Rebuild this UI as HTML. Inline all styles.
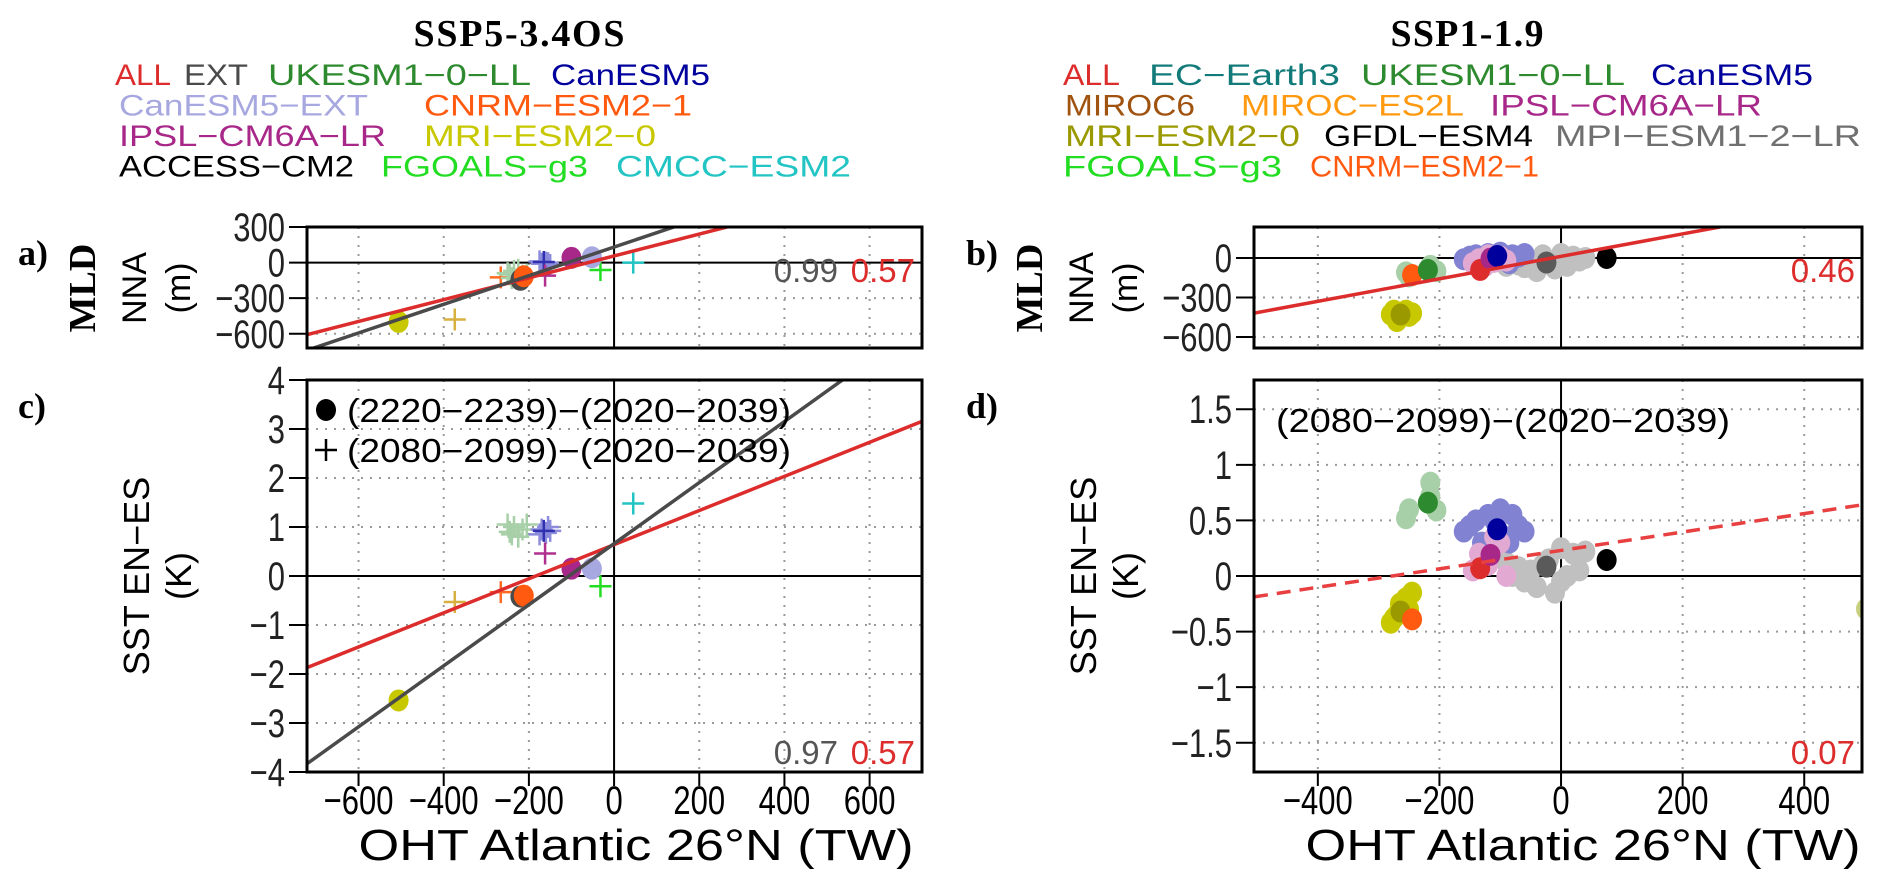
<!DOCTYPE html>
<html><head><meta charset="utf-8">
<style>
html,body{margin:0;padding:0;background:#fff;}
svg{display:block;}
text{font-family:"Liberation Sans",sans-serif;}
.serif{font-family:"Liberation Serif",serif;font-weight:bold;}
</style></head>
<body>
<svg id="fig" width="1892" height="890" viewBox="0 0 1892 890" xmlns="http://www.w3.org/2000/svg">
<g>
<text class="serif" x="519" y="46" font-size="38" text-anchor="middle" textLength="211">SSP5-3.4OS</text>
<text class="serif" x="1467" y="46" font-size="38" text-anchor="middle" textLength="153">SSP1-1.9</text>
</g>
<g id="legendtxt" font-size="30"></g>
<g id="plots"></g>
</svg>
<script>
const legendNames=["ALL","EXT","UKESM1−0−LL","CanESM5","CanESM5−EXT","CNRM−ESM2−1","IPSL−CM6A−LR","MRI−ESM2−0","ACCESS−CM2","FGOALS−g3","CMCC−ESM2",
"ALL","EC−Earth3","UKESM1−0−LL","CanESM5","MIROC6","MIROC−ES2L","IPSL−CM6A−LR","MRI−ESM2−0","GFDL−ESM4","MPI−ESM1−2−LR","FGOALS−g3","CNRM−ESM2−1"];
const legendColors=["#dd2c2c","#4a4a4a","#2e8a2e","#00009c","#a8a8e0","#ff5a10","#a8288a","#c8c800","#000000","#22dd22","#22c4c4",
"#dd2c2c","#137a7a","#2e8a2e","#00009c","#a0520f","#ff9a10","#a8288a","#9a9a00","#000000","#707070","#22dd22","#ff5a10"];
const legendX=[115,184,268,551,119,424,119,424,119,381,616,1063,1149,1361,1651,1065,1241,1490,1065,1324,1555,1063,1310];
const legendW=[56,64,263,159,249,268,267,232,235,207,235,57,191,264,162,130,223,272,235,209,306,219,229];
const legendRow=[0,0,0,0,1,1,2,2,3,3,3,0,0,0,0,1,1,1,2,2,2,3,3];

const NS="http://www.w3.org/2000/svg";
function el(tag,attrs,parent){const e=document.createElementNS(NS,tag);for(const k in attrs)e.setAttribute(k,attrs[k]);parent.appendChild(e);return e;}
const lg=document.getElementById('legendtxt');
legendNames.forEach((n,i)=>{
  const t=el('text',{x:legendX[i],y:85+legendRow[i]*30.5,fill:legendColors[i],textLength:legendW[i],lengthAdjust:'spacingAndGlyphs'},lg);
  t.textContent=n;
  
  
});

// ---- SSP5-3.4OS data (panels a, c)
const a_circleX=[-220,-506,-212,-100,-52];
const a_circleMLD=[-145,-500,-115,40,45];
const c_circleSST=[-0.42,-2.54,-0.40,0.15,0.15];
const a_circleCol=["#4a4a4a","#c8c800","#ff5a10","#a8288a","#a8a8e0"];
const a_crossX=[-374,-266,-250,-235,-215,-240,-225,-205,-245,-170,-160,-150,-175,-155,-165,-162,-32,45];
const a_crossMLD=[-480,-125,-90,-70,-110,-130,-60,-100,-100,-10,0,-20,10,-5,5,-110,-63,0];
const c_crossSST=[-0.53,-0.33,1.05,1.0,0.95,0.85,0.8,1.05,0.9,0.95,0.88,0.92,0.85,1.0,0.92,0.46,-0.21,1.48];
const a_crossCol=["#d8b040","#ff6a20","#a8d0a8","#a8d0a8","#a8d0a8","#a8d0a8","#a8d0a8","#a8d0a8","#a8d0a8","#8c8cdc","#8c8cdc","#8c8cdc","#8c8cdc","#8c8cdc","#3030b0","#b03090","#22dd22","#22c4c4"];
const a_lineSlope=[0.921,1.207], a_lineInt=[56,131];
const c_lineSlope=[0.00348,0.00623], c_lineInt=[0.64,0.66];
const lineCol=["#dd2c2c","#4a4a4a"];

// ---- SSP1-1.9 data (panels b, d)
const b_ensX=[-80,-60,-40,-20,0,20,40,-10,10,-50,-30,-70,0,-90,30,
 -160,-140,-120,-100,-80,-70,-90,-130,-150,-110,-60,-85,
 -145,-135,-110,-100,-90,-120,-125,
 -255,-215,-205,-215,-250,
 -280,-270,-255,-245,-265,-250,-275];
const b_ensMLD=[-20,-70,-100,-40,-10,10,0,-80,-60,-30,20,-50,30,-60,-20,
 -10,20,30,40,20,10,-20,-30,10,0,30,-40,
 -40,-10,-30,10,-20,20,-60,
 -110,-80,-100,-60,-140,
 -430,-480,-400,-420,-450,-440,-400];
const d_ensSST=[0.0,-0.05,-0.1,0.15,0.25,0.2,0.22,-0.15,0.0,0.05,0.1,0.08,-0.05,0.12,0.05,
 0.4,0.5,0.55,0.6,0.55,0.45,0.35,0.3,0.45,0.5,0.4,0.3,
 0.05,0.2,0.35,0.3,0.0,0.1,0.15,
 0.52,0.84,0.59,0.72,0.6,
 -0.42,-0.35,-0.2,-0.15,-0.25,-0.3,-0.38];
const b_ensGroup=[0,0,0,0,0,0,0,0,0,0,0,0,0,0,0,1,1,1,1,1,1,1,1,1,1,1,1,2,2,2,2,2,2,2,3,3,3,3,3,4,4,4,4,4,4,4];
const ensCol=["#c0c0c0","#8282d2","#e2aad2","#a8d0a8","#c8c800"];
const b_meanX=[-264,-245,-219,-133,-116,-105,-24,75];
const b_meanMLD=[-430,-130,-91,-91,-5,15,-35,0];
const d_meanSST=[-0.32,-0.39,0.66,0.07,0.19,0.42,0.084,0.144];
const meanCol=["#9a9a00","#ff5a10","#2e8a2e","#dd2c2c","#a8288a","#00009c","#5a5a5a","#000000"];
const b_lineSlope=0.854, b_lineInt=12;
const d_lineSlope=0.000828, d_lineInt=0.23;

const plots=document.getElementById('plots');
function panel(o){
  const g=el('g',{},plots);
  
  
  const sx=v=>o.L+(v-o.xd[0])/(o.xd[1]-o.xd[0])*(o.R-o.L);
  const sy=v=>o.B-(v-o.yd[0])/(o.yd[1]-o.yd[0])*(o.B-o.T);
  const clipId='clip'+o.id;
  const cp=el('clipPath',{id:clipId},g);el('rect',{x:o.L,y:o.T,width:o.R-o.L,height:o.B-o.T},cp);
  o.xg.forEach(v=>{ if(v!==0){const l=el('line',{x1:sx(v),x2:sx(v),y1:o.T,y2:o.B,stroke:'#999','stroke-width':2,'stroke-dasharray':'2 7'},g);}});
  o.yt.forEach(v=>{ if(v!==0){const l=el('line',{x1:o.L,x2:o.R,y1:sy(v),y2:sy(v),stroke:'#999','stroke-width':2,'stroke-dasharray':'2 7'},g);}});
  el('line',{x1:sx(0),x2:sx(0),y1:o.T,y2:o.B,stroke:'#000','stroke-width':2},g);
  el('line',{x1:o.L,x2:o.R,y1:sy(0),y2:sy(0),stroke:'#000','stroke-width':2},g);
  o.yt.forEach((v,i)=>{
    el('line',{x1:o.L-18,x2:o.L,y1:sy(v),y2:sy(v),stroke:'#000','stroke-width':2},g);
    const t=el('text',{x:0,y:0,'font-size':31,'text-anchor':'end',fill:'#222',transform:`translate(${o.L-22},${sy(v)+14}) scale(1,1.3)`},g);
    t.textContent=o.ytl[i];
    
    
  });
  if(o.xt){o.xt.forEach(v=>{
    el('line',{x1:sx(v),x2:sx(v),y1:o.B,y2:o.B+14,stroke:'#000','stroke-width':2},g);
    const t=el('text',{x:0,y:0,'font-size':31,'text-anchor':'middle',transform:`translate(${sx(v)},${o.B+42}) scale(1,1.3)`},g);
    t.textContent=(v<0?'−':'')+Math.abs(v);
    
    
  });}
  const pg=el('g',{'clip-path':'url(#'+clipId+')'},g);
  o.draw(pg,sx,sy);
  el('rect',{x:o.L,y:o.T,width:o.R-o.L,height:o.B-o.T,fill:'none',stroke:'#000','stroke-width':3},g);
  return g;
}
function dot(p,x,y,c,name){const e=el('ellipse',{cx:x,cy:y,rx:10,ry:11,fill:c},p);}
function cross(p,x,y,c){const e=el('path',{d:`M${x-11} ${y}H${x+11}M${x} ${y-11}V${y+11}`,stroke:c,'stroke-width':2.5,fill:'none'},p);}
function line(p,sx,sy,xd,m,b,c,dash){const e=el('line',{x1:sx(xd[0]),y1:sy(m*xd[0]+b),x2:sx(xd[1]),y2:sy(m*xd[1]+b),stroke:c,'stroke-width':3.5},p);if(dash)e.setAttribute('stroke-dasharray',dash);}
function txt(x,y,s,c,size,anchor,name,extra){const t=el('text',Object.assign({x:x,y:y,fill:c,'font-size':size,'text-anchor':anchor||'start'},extra||{}),plots);t.textContent=s;return t;}

const XA=[-721,723], XB=[-505,495];
panel({id:'a',name:'panel-a-mld-ssp534os',L:307,R:922,T:227,B:348,xd:XA,yd:[-720,300],xg:[-600,-400,-200,0,200,400,600],yt:[300,0,-300,-600],ytl:['300','0','−300','−600'],
 draw:(p,sx,sy)=>{
  a_crossX.forEach((v,i)=>cross(p,sx(v),sy(a_crossMLD[i]),a_crossCol[i]));
  a_circleX.forEach((v,i)=>dot(p,sx(v),sy(a_circleMLD[i]),a_circleCol[i],'model-dot'));
  [0,1].forEach(k=>line(p,sx,sy,XA,a_lineSlope[k],a_lineInt[k],lineCol[k]));
 }});
panel({id:'c',name:'panel-c-sst-ssp534os',L:307,R:922,T:380,B:772,xd:XA,yd:[-4,4],xg:[-600,-400,-200,0,200,400,600],xt:[-600,-400,-200,0,200,400,600],yt:[4,3,2,1,0,-1,-2,-3,-4],ytl:['4','3','2','1','0','−1','−2','−3','−4'],
 draw:(p,sx,sy)=>{
  a_crossX.forEach((v,i)=>cross(p,sx(v),sy(c_crossSST[i]),a_crossCol[i]));
  a_circleX.forEach((v,i)=>dot(p,sx(v),sy(c_circleSST[i]),a_circleCol[i],'model-dot'));
  [0,1].forEach(k=>line(p,sx,sy,XA,c_lineSlope[k],c_lineInt[k],lineCol[k]));
 }});
panel({id:'b',name:'panel-b-mld-ssp119',L:1254,R:1862,T:227,B:348,xd:XB,yd:[-684,235],xg:[-400,-200,0,200,400],yt:[0,-300,-600],ytl:['0','−300','−600'],
 draw:(p,sx,sy)=>{
  b_ensX.forEach((v,i)=>dot(p,sx(v),sy(b_ensMLD[i]),ensCol[b_ensGroup[i]],'ensemble-dot'));
  b_meanX.forEach((v,i)=>dot(p,sx(v),sy(b_meanMLD[i]),meanCol[i],'model-mean-dot'));
  line(p,sx,sy,XB,b_lineSlope,b_lineInt,'#dd2c2c');
 }});
panel({id:'d',name:'panel-d-sst-ssp119',L:1254,R:1862,T:380,B:772,xd:XB,yd:[-1.763,1.763],xg:[-400,-200,0,200,400],xt:[-400,-200,0,200,400],yt:[1.5,1,0.5,0,-0.5,-1,-1.5],ytl:['1.5','1','0.5','0','−0.5','−1','−1.5'],
 draw:(p,sx,sy)=>{
  b_ensX.forEach((v,i)=>dot(p,sx(v),sy(d_ensSST[i]),ensCol[b_ensGroup[i]],'ensemble-dot'));
  b_meanX.forEach((v,i)=>dot(p,sx(v),sy(d_meanSST[i]),meanCol[i],'model-mean-dot'));
  dot(p,1866,609,'#c8d080','edge-dot');
  line(p,sx,sy,XB,d_lineSlope,d_lineInt,'#e84040','14 9');
 }});

[['a)',227+38],['c)',380+38]].forEach(([s,y])=>txt(18,y,s,'#000',36,'start','panel-label',{class:'serif'}));
[['b)',227+38],['d)',380+38]].forEach(([s,y])=>txt(966,y,s,'#000',36,'start','panel-label',{class:'serif'}));
[[0,'a'],[947,'b']].forEach(([off])=>{
  txt(0,0,'MLD','#000',38,'middle','y-axis-title-mld',{class:'serif',transform:`translate(${95+off},288) rotate(-90)`});
  txt(0,0,'NNA','#000',34,'middle','y-axis-title-nna',{transform:`translate(${146+off},288) rotate(-90)`});
  txt(0,0,'(m)','#000',34,'middle','y-axis-unit',{transform:`translate(${190+off},288) rotate(-90)`});
  txt(0,0,'SST EN−ES','#000',36,'middle','y-axis-title-sst',{transform:`translate(${149+off},576) rotate(-90)`});
  txt(0,0,'(K)','#000',36,'middle','y-axis-unit',{transform:`translate(${191+off},576) rotate(-90)`});
});
txt(636,860,'OHT Atlantic 26°N (TW)','#000',44,'middle','x-axis-title',{textLength:555,lengthAdjust:'spacingAndGlyphs'});
txt(1583,860,'OHT Atlantic 26°N (TW)','#000',44,'middle','x-axis-title',{textLength:555,lengthAdjust:'spacingAndGlyphs'});
txt(838,282,'0.99','#555',33,'end','corr-ext-a');txt(915,282,'0.57','#dd2c2c',33,'end','corr-all-a');
txt(838,764,'0.97','#555',33,'end','corr-ext-c');txt(915,764,'0.57','#dd2c2c',33,'end','corr-all-c');
txt(1855,282,'0.46','#dd2c2c',33,'end','corr-all-b');
txt(1855,764,'0.07','#dd2c2c',33,'end','corr-all-d');
const le=el('ellipse',{cx:326,cy:410,rx:10,ry:11,fill:'#000'},plots);


txt(347,422,'(2220−2239)−(2020−2039)','#000',33,'start','legend-period-1',{textLength:444,lengthAdjust:'spacingAndGlyphs'});
cross(plots,326,450,'#000');
txt(347,462,'(2080−2099)−(2020−2039)','#000',33,'start','legend-period-2',{textLength:444,lengthAdjust:'spacingAndGlyphs'});
txt(1276,432,'(2080−2099)−(2020−2039)','#000',33,'start','legend-period-d',{textLength:454,lengthAdjust:'spacingAndGlyphs'});
</script>
</body></html>
